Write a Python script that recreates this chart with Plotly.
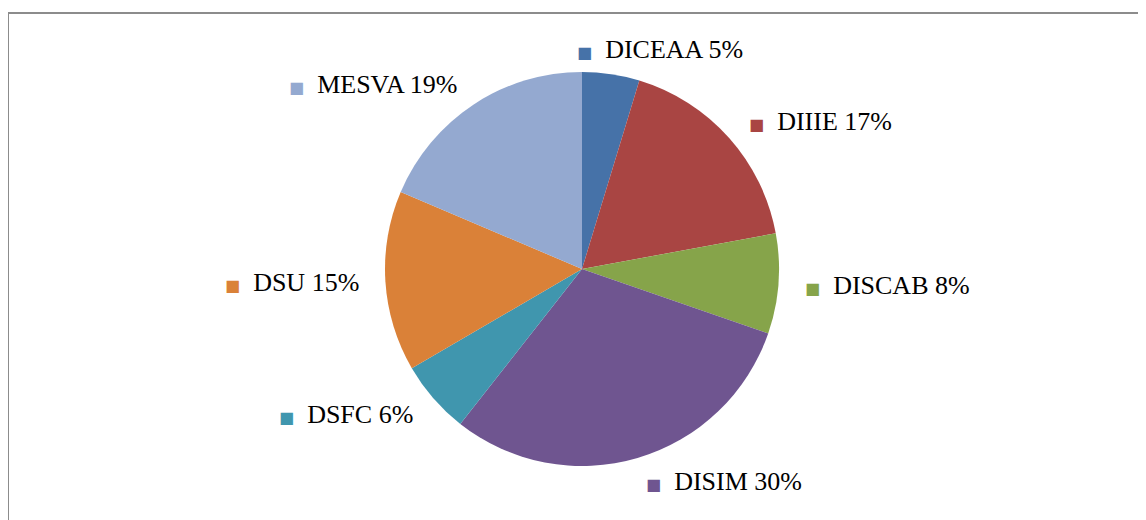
import math
import plotly.graph_objects as go

categories = ["DICEAA", "DIIIE", "DISCAB", "DISIM", "DSFC", "DSU", "MESVA"]
shares = [4.7, 17.4, 8.2, 30.3, 6.0, 14.8, 18.6]
colors = ["#4672A8", "#A94543", "#86A44A", "#6F5590", "#4096AE", "#DA8138", "#94A9D0"]

W, H = 1146, 520
OFF = 8  # page offset of the figure inside the browser window
cx, cy, R = 582 - OFF, 269 - OFF, 197  # pie centre and radius in figure pixels

fig = go.Figure(go.Pie(
    labels=categories, values=shares, sort=False, direction="clockwise", rotation=0,
    marker=dict(colors=colors, line=dict(width=0)),
    textinfo="none", hoverinfo="label+percent", showlegend=False,
    domain=dict(x=[(cx - R) / W, (cx + R) / W], y=[1 - (cy + R) / H, 1 - (cy - R) / H]),
))

total = sum(shares)
cum = 0.0
annotations = []
for cat, v, col in zip(categories, shares, colors):
    mid = (cum + v / 2) / total * 2 * math.pi
    cum += v
    k = 1.125
    s = math.sin(mid)
    px = cx + R * k * s
    py = cy - R * k * math.cos(mid)
    if 0 <= s < 0.2:
        px -= 0.2 * R  # near-vertical labels sit closer to the centre line
    pct = round(v / total * 100)
    annotations.append(dict(
        x=px / W, y=1 - py / H, xref="paper", yref="paper",
        xanchor="left" if s >= 0 else "right", yanchor="middle",
        showarrow=False,
        text=f"<span style='color:{col};font-size:16px;font-family:DejaVu Sans'>■</span>  {cat} {pct}%",
        font=dict(family="Liberation Serif", size=26, color="#000000"),
    ))

fig.update_layout(
    width=W, height=H, margin=dict(l=0, r=0, t=0, b=0),
    paper_bgcolor="white", plot_bgcolor="white",
    annotations=annotations,
    shapes=[dict(type="rect", xref="paper", yref="paper",
                 x0=(7 - OFF + 1) / W, x1=1.05, y0=-0.05, y1=1 - (13 - OFF) / H,
                 line=dict(color="#8C8C8C", width=2), fillcolor="rgba(0,0,0,0)")],
)

fig.write_html("out.html")
